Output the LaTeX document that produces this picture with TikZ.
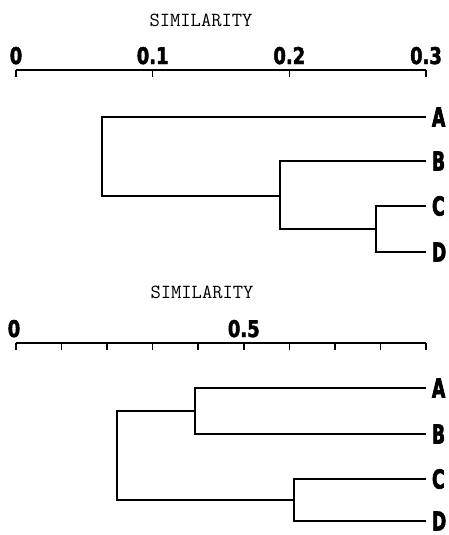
\documentclass[tikz,border=0pt]{standalone}
\usepackage{fontspec}
\newfontfamily\labfont[FakeStretch=0.66,BoldFeatures={FakeBold=2.5}]{DejaVu Sans}
\newfontfamily\numfont[FakeStretch=0.78,BoldFeatures={FakeBold=2}]{DejaVu Sans}
\tikzset{
  leaf/.style={font=\labfont\bfseries\fontsize{26}{26}\selectfont,
    anchor=west, inner sep=0pt, outer xsep=6pt},
  ticklab/.style={font=\numfont\bfseries\fontsize{23}{23}\selectfont,
    anchor=base, inner sep=0pt},
  axtitle/.style={font=\ttfamily\fontsize{20}{20}\selectfont, inner sep=0pt},
  branch/.style={line width=1.5pt},
  axis/.style={line width=1.5pt}
}
\begin{document}
\begin{tikzpicture}[x=1pt,y=-1pt]
\useasboundingbox (0,0) rectangle (448,535);

% ---------- upper dendrogram: axis 0 .. 0.3 ----------
\node[axtitle] (title1) at (201,20) {SIMILARITY};
\coordinate (ax1l) at (16,70);
\coordinate (ax1r) at (426,70);
\draw[axis] (ax1l) -- (ax1r);
\foreach \v/\lab [count=\i] in {0/0, 0.1/0.1, 0.2/0.2, 0.3/0.3} {
  \coordinate (tk1-\i) at ({16+\v*1366.67},70);
  \draw[axis] (tk1-\i) -- ++(0,7);
  \node[ticklab] (lab1-\i) at ({16+\v*1366.67},64) {\lab};
}

\node[leaf] (A1) at (426,117) {A};
\node[leaf] (B1) at (426,161) {B};
\node[leaf] (C1) at (426,206) {C};
\node[leaf] (D1) at (426,252) {D};

\coordinate (t1) at (102,196);
\coordinate (t2) at (280,196);
\coordinate (t3) at (376,229);

\draw[branch] (A1.west) -| (t1) -- (t2);
\draw[branch] (B1.west) -| (t2) |- (t3);
\draw[branch] (C1.west) -| (t3) |- (D1.west);

% ---------- lower dendrogram: axis 0 .. 0.9 ----------
\node[axtitle] (title2) at (202,292) {SIMILARITY};
\coordinate (ax2l) at (16,343);
\coordinate (ax2r) at (426,343);
\draw[axis] (ax2l) -- (ax2r);
\foreach \i in {0,...,9} {
  \coordinate (tk2-\i) at ({16+\i*45.556},343);
  \draw[axis] (tk2-\i) -- ++(0,7);
}
\node[ticklab] (lab2-0) at (14,337) {0};
\node[ticklab] (lab2-5) at ({16+5*45.556},337) {0.5};

\node[leaf] (A2) at (426,388) {A};
\node[leaf] (B2) at (426,434) {B};
\node[leaf] (C2) at (426,479) {C};
\node[leaf] (D2) at (426,521) {D};

\coordinate (b1) at (117,456);
\coordinate (b2) at (195,411);
\coordinate (b3) at (294,500);

\draw[branch] (A2.west) -| (b2) |- (B2.west);
\draw[branch] (C2.west) -| (b3) |- (D2.west);
\draw[branch] (b2) -| (b1) |- (b3);
\end{tikzpicture}
\end{document}
